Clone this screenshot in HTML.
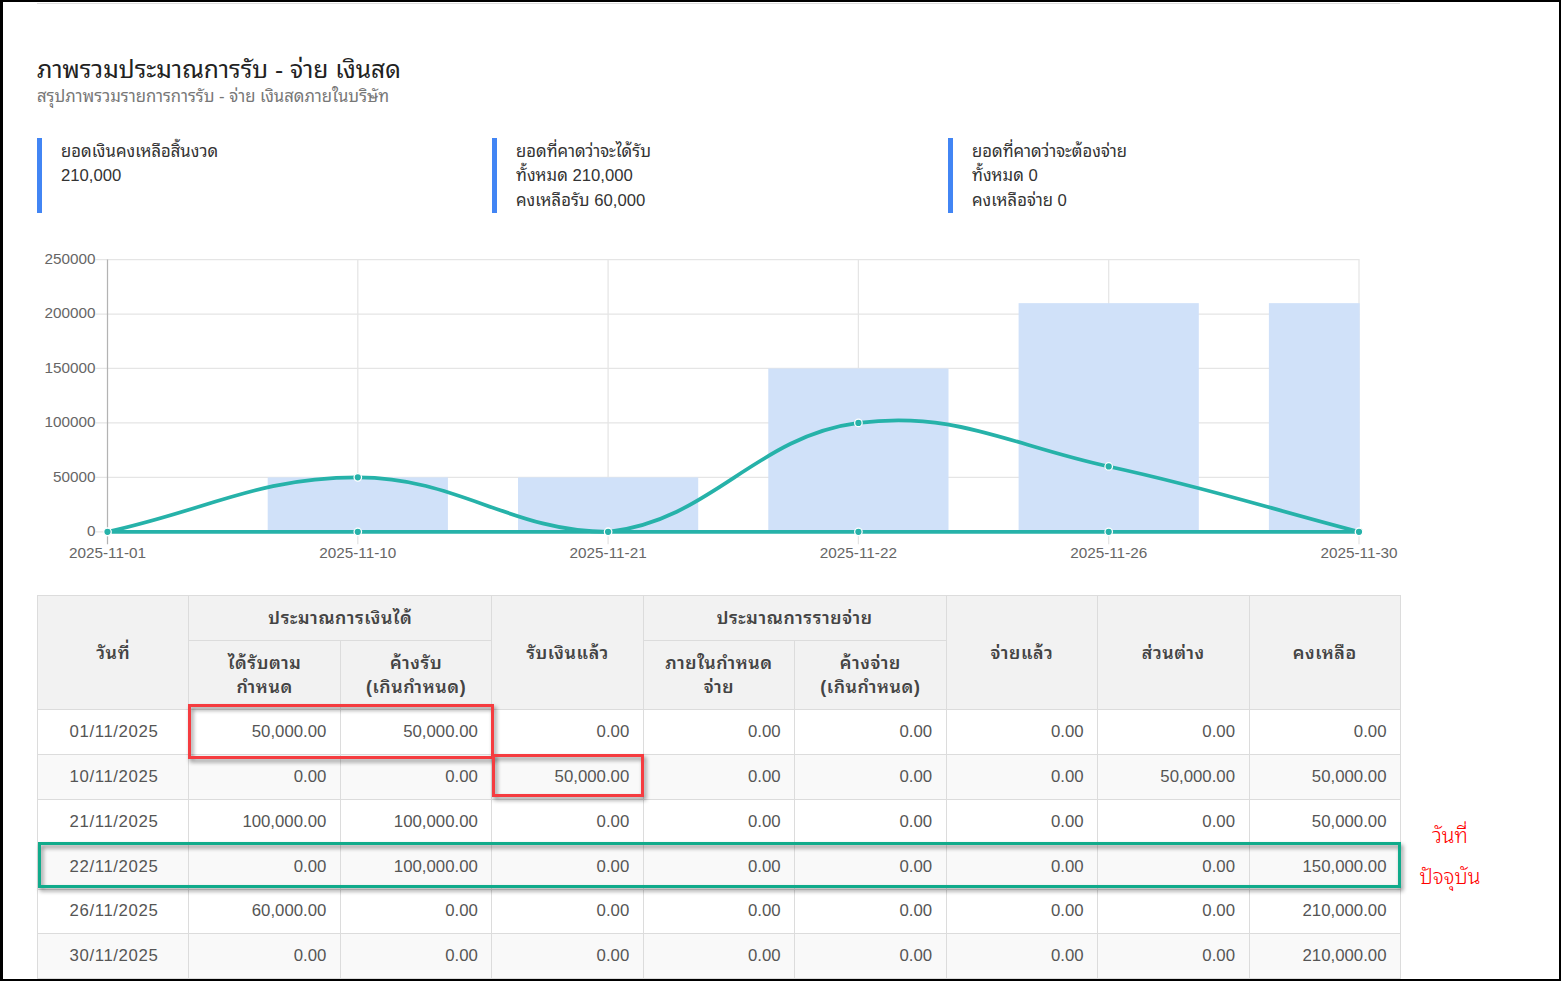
<!DOCTYPE html>
<html lang="th"><head><meta charset="utf-8"><title>ภาพรวมประมาณการรับ - จ่าย เงินสด</title>
<style>
*{box-sizing:border-box}
html,body{margin:0;padding:0;background:#fff}
body{width:1561px;height:981px;position:relative;overflow:hidden;font-family:"Liberation Sans","Noto Sans Thai Looped",sans-serif;color:#333}
.frame{position:absolute;left:0;top:0;width:1561px;height:981px;border-style:solid;border-color:#000;border-width:2px 2px 2px 3px;z-index:50;pointer-events:none}
.topline{position:absolute;left:37px;top:3px;width:1363px;height:1px;background:#dedede}
h1{position:absolute;left:37px;top:54px;margin:0;font-size:24.6px;font-weight:normal;color:#222;line-height:32px;white-space:nowrap}
.sub{position:absolute;left:37px;top:84.5px;font-size:16.7px;color:#777;line-height:24px;white-space:nowrap}
.card{position:absolute;top:138px;height:74.6px;border-left:5px solid #4285f4;padding-left:19px;font-size:16.7px;line-height:24.3px;color:#333;white-space:nowrap}
.card div{position:relative;top:2px}
.chart{position:absolute;left:0;top:0}
.chart .tk{font-family:"Liberation Sans",sans-serif;font-size:15.3px;fill:#666}
table{position:absolute;left:37px;top:595px;width:1364px;border-collapse:collapse;table-layout:fixed;font-size:16.8px;color:#555}
th,td{border:1px solid #dcdcdc;padding:0 13.5px 0 15px;height:44.8px;line-height:24px;text-align:right;white-space:nowrap}
th{background:#f2f2f2;text-align:center;font-weight:600;color:#444;font-size:17.8px;letter-spacing:0.6px;padding:0 4px}
tr.h2 th{height:69.6px}
td.c{text-align:center;letter-spacing:0.6px}
tbody tr:nth-child(even) td{background:#f9f9f9}
.box{position:absolute;border:3px solid #f53c40;filter:drop-shadow(2px 3px 2px rgba(0,0,0,.45));z-index:10}
.gbox{border-color:#10ab8b}
.note{position:absolute;left:1405px;width:90px;text-align:center;color:#ff0000;font-size:21px;font-weight:300;font-family:"Liberation Sans","Noto Sans Thai Looped",sans-serif}
</style></head><body>
<div class="topline"></div>
<h1>ภาพรวมประมาณการรับ - จ่าย เงินสด</h1>
<div class="sub">สรุปภาพรวมรายการการรับ - จ่าย เงินสดภายในบริษัท</div>
<div class="card" style="left:37px"><div>ยอดเงินคงเหลือสิ้นงวด</div><div>210,000</div></div>
<div class="card" style="left:492px"><div>ยอดที่คาดว่าจะได้รับ</div><div>ทั้งหมด 210,000</div><div>คงเหลือรับ 60,000</div></div>
<div class="card" style="left:948px"><div>ยอดที่คาดว่าจะต้องจ่าย</div><div>ทั้งหมด 0</div><div>คงเหลือจ่าย 0</div></div>
<svg class="chart" width="1561" height="600" viewBox="0 0 1561 600">
<line x1="95.5" y1="259.60" x2="1359.50" y2="259.60" stroke="#e5e5e5" stroke-width="1.25"/>
<line x1="95.5" y1="314.04" x2="1359.50" y2="314.04" stroke="#e5e5e5" stroke-width="1.25"/>
<line x1="95.5" y1="368.48" x2="1359.50" y2="368.48" stroke="#e5e5e5" stroke-width="1.25"/>
<line x1="95.5" y1="422.92" x2="1359.50" y2="422.92" stroke="#e5e5e5" stroke-width="1.25"/>
<line x1="95.5" y1="477.36" x2="1359.50" y2="477.36" stroke="#e5e5e5" stroke-width="1.25"/>
<line x1="95.5" y1="531.80" x2="1359.50" y2="531.80" stroke="#e5e5e5" stroke-width="1.25"/>
<line x1="107.50" y1="259.60" x2="107.50" y2="544.30" stroke="#b3b3b3" stroke-width="1.25"/>
<line x1="357.80" y1="259.60" x2="357.80" y2="544.30" stroke="#e5e5e5" stroke-width="1.25"/>
<line x1="608.10" y1="259.60" x2="608.10" y2="544.30" stroke="#e5e5e5" stroke-width="1.25"/>
<line x1="858.40" y1="259.60" x2="858.40" y2="544.30" stroke="#e5e5e5" stroke-width="1.25"/>
<line x1="1108.70" y1="259.60" x2="1108.70" y2="544.30" stroke="#e5e5e5" stroke-width="1.25"/>
<line x1="1359.00" y1="259.60" x2="1359.00" y2="544.30" stroke="#e5e5e5" stroke-width="1.25"/>
<rect x="267.69" y="477.36" width="180.22" height="54.44" fill="#d0e1f9"/>
<rect x="517.99" y="477.36" width="180.22" height="54.44" fill="#d0e1f9"/>
<rect x="768.29" y="368.48" width="180.22" height="163.32" fill="#d0e1f9"/>
<rect x="1018.59" y="303.15" width="180.22" height="228.65" fill="#d0e1f9"/>
<rect x="1268.89" y="303.15" width="90.81" height="228.65" fill="#d0e1f9"/>
<text x="95.5" y="264.00" text-anchor="end" class="tk">250000</text>
<text x="95.5" y="318.44" text-anchor="end" class="tk">200000</text>
<text x="95.5" y="372.88" text-anchor="end" class="tk">150000</text>
<text x="95.5" y="427.32" text-anchor="end" class="tk">100000</text>
<text x="95.5" y="481.76" text-anchor="end" class="tk">50000</text>
<text x="95.5" y="536.20" text-anchor="end" class="tk">0</text>
<text x="107.50" y="558.2" text-anchor="middle" class="tk">2025-11-01</text>
<text x="357.80" y="558.2" text-anchor="middle" class="tk">2025-11-10</text>
<text x="608.10" y="558.2" text-anchor="middle" class="tk">2025-11-21</text>
<text x="858.40" y="558.2" text-anchor="middle" class="tk">2025-11-22</text>
<text x="1108.70" y="558.2" text-anchor="middle" class="tk">2025-11-26</text>
<text x="1359.00" y="558.2" text-anchor="middle" class="tk">2025-11-30</text>
<path d="M107.50,531.80 C207.62,531.80 257.68,531.80 357.80,531.80 C457.92,531.80 507.98,531.80 608.10,531.80 C708.22,531.80 758.28,531.80 858.40,531.80 C958.52,531.80 1008.58,531.80 1108.70,531.80 C1208.82,531.80 1258.88,531.80 1359.00,531.80" fill="none" stroke="#26b2a9" stroke-width="3.75"/>
<circle cx="107.50" cy="531.80" r="3.75" fill="#26b2a9" stroke="#fff" stroke-width="1.25"/>
<circle cx="357.80" cy="531.80" r="3.75" fill="#26b2a9" stroke="#fff" stroke-width="1.25"/>
<circle cx="608.10" cy="531.80" r="3.75" fill="#26b2a9" stroke="#fff" stroke-width="1.25"/>
<circle cx="858.40" cy="531.80" r="3.75" fill="#26b2a9" stroke="#fff" stroke-width="1.25"/>
<circle cx="1108.70" cy="531.80" r="3.75" fill="#26b2a9" stroke="#fff" stroke-width="1.25"/>
<circle cx="1359.00" cy="531.80" r="3.75" fill="#26b2a9" stroke="#fff" stroke-width="1.25"/>
<path d="M107.50,531.80 C207.62,510.02 257.68,477.36 357.80,477.36 C457.92,477.36 511.16,531.80 608.10,531.80 C711.40,520.57 754.69,436.45 858.40,422.92 C954.93,410.32 1009.48,444.89 1108.70,466.47 C1209.72,488.44 1258.88,505.67 1359.00,531.80" fill="none" stroke="#26b2a9" stroke-width="3.75"/>
<circle cx="107.50" cy="531.80" r="3.75" fill="#26b2a9" stroke="#fff" stroke-width="1.25"/>
<circle cx="357.80" cy="477.36" r="3.75" fill="#26b2a9" stroke="#fff" stroke-width="1.25"/>
<circle cx="608.10" cy="531.80" r="3.75" fill="#26b2a9" stroke="#fff" stroke-width="1.25"/>
<circle cx="858.40" cy="422.92" r="3.75" fill="#26b2a9" stroke="#fff" stroke-width="1.25"/>
<circle cx="1108.70" cy="466.47" r="3.75" fill="#26b2a9" stroke="#fff" stroke-width="1.25"/>
<circle cx="1359.00" cy="531.80" r="3.75" fill="#26b2a9" stroke="#fff" stroke-width="1.25"/>
</svg>
<table>
<colgroup><col><col><col><col><col><col><col><col><col></colgroup>
<thead>
<tr><th rowspan="2">วันที่</th><th colspan="2">ประมาณการเงินได้</th><th rowspan="2">รับเงินแล้ว</th><th colspan="2">ประมาณการรายจ่าย</th><th rowspan="2">จ่ายแล้ว</th><th rowspan="2">ส่วนต่าง</th><th rowspan="2">คงเหลือ</th></tr>
<tr class="h2"><th>ได้รับตาม<br>กำหนด</th><th>ค้างรับ<br>(เกินกำหนด)</th><th>ภายในกำหนด<br>จ่าย</th><th>ค้างจ่าย<br>(เกินกำหนด)</th></tr>
</thead>
<tbody>
<tr><td class="c">01/11/2025</td><td>50,000.00</td><td>50,000.00</td><td>0.00</td><td>0.00</td><td>0.00</td><td>0.00</td><td>0.00</td><td>0.00</td></tr>
<tr><td class="c">10/11/2025</td><td>0.00</td><td>0.00</td><td>50,000.00</td><td>0.00</td><td>0.00</td><td>0.00</td><td>50,000.00</td><td>50,000.00</td></tr>
<tr><td class="c">21/11/2025</td><td>100,000.00</td><td>100,000.00</td><td>0.00</td><td>0.00</td><td>0.00</td><td>0.00</td><td>0.00</td><td>50,000.00</td></tr>
<tr><td class="c">22/11/2025</td><td>0.00</td><td>100,000.00</td><td>0.00</td><td>0.00</td><td>0.00</td><td>0.00</td><td>0.00</td><td>150,000.00</td></tr>
<tr><td class="c">26/11/2025</td><td>60,000.00</td><td>0.00</td><td>0.00</td><td>0.00</td><td>0.00</td><td>0.00</td><td>0.00</td><td>210,000.00</td></tr>
<tr><td class="c">30/11/2025</td><td>0.00</td><td>0.00</td><td>0.00</td><td>0.00</td><td>0.00</td><td>0.00</td><td>0.00</td><td>210,000.00</td></tr>
</tbody>
</table>
<div class="box" style="left:188px;top:704px;width:306px;height:54.5px"></div>
<div class="box" style="left:492px;top:754px;width:152px;height:43px"></div>
<div class="box gbox" style="left:38px;top:842px;width:1363px;height:45.5px"></div>
<div class="note" style="top:816px;line-height:40px">วันที่</div>
<div class="note" style="top:856.5px;line-height:40px">ปัจจุบัน</div>
<div class="frame"></div>
</body></html>
